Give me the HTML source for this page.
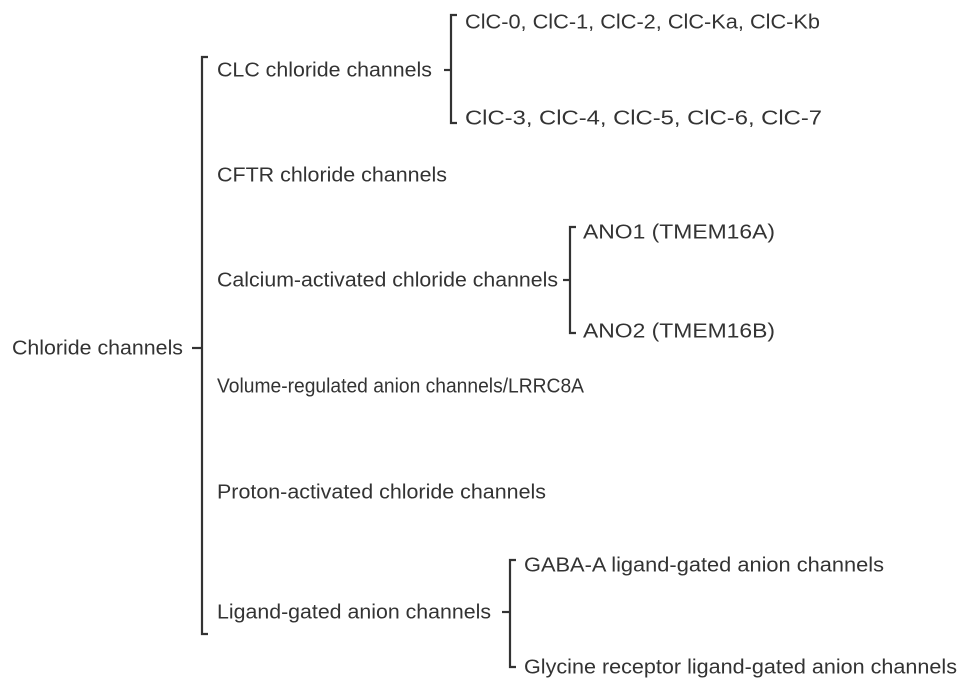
<!DOCTYPE html>
<html><head><meta charset="utf-8"><style>
html,body{margin:0;padding:0;background:#fff;}
svg{display:block;}
text{font-family:"Liberation Sans",Arial,sans-serif;font-size:20.5px;fill:#333;dominant-baseline:central;}
</style></head><body>
<svg width="969" height="693" viewBox="0 0 969 693" xmlns="http://www.w3.org/2000/svg">
<g stroke="#333" stroke-width="2.2" fill="none">
<path d="M208,57 H202 V634 H208"/><path d="M192,348 H202"/>
<path d="M457,15 H451 V123 H457"/><path d="M444,70 H451"/>
<path d="M576,227 H570 V333 H576"/><path d="M563,280 H570"/>
<path d="M516,560 H510 V667 H516"/><path d="M502,612 H510"/>
</g>
<text x="12" y="348" textLength="171" lengthAdjust="spacingAndGlyphs">Chloride channels</text>
<text x="217" y="70" textLength="215" lengthAdjust="spacingAndGlyphs">CLC chloride channels</text>
<text x="465" y="22" textLength="355" lengthAdjust="spacingAndGlyphs">ClC-0, ClC-1, ClC-2, ClC-Ka, ClC-Kb</text>
<text x="465" y="118" textLength="357" lengthAdjust="spacingAndGlyphs">ClC-3, ClC-4, ClC-5, ClC-6, ClC-7</text>
<text x="217" y="175" textLength="230" lengthAdjust="spacingAndGlyphs">CFTR chloride channels</text>
<text x="217" y="280" textLength="341" lengthAdjust="spacingAndGlyphs">Calcium-activated chloride channels</text>
<text x="583" y="232" textLength="192" lengthAdjust="spacingAndGlyphs">ANO1 (TMEM16A)</text>
<text x="583" y="331" textLength="192" lengthAdjust="spacingAndGlyphs">ANO2 (TMEM16B)</text>
<text x="217" y="386" textLength="367" lengthAdjust="spacingAndGlyphs">Volume-regulated anion channels/LRRC8A</text>
<text x="217" y="492" textLength="329" lengthAdjust="spacingAndGlyphs">Proton-activated chloride channels</text>
<text x="217" y="612" textLength="274" lengthAdjust="spacingAndGlyphs">Ligand-gated anion channels</text>
<text x="524" y="565" textLength="360" lengthAdjust="spacingAndGlyphs">GABA-A ligand-gated anion channels</text>
<text x="524" y="667" textLength="433" lengthAdjust="spacingAndGlyphs">Glycine receptor ligand-gated anion channels</text>
</svg>
</body></html>
